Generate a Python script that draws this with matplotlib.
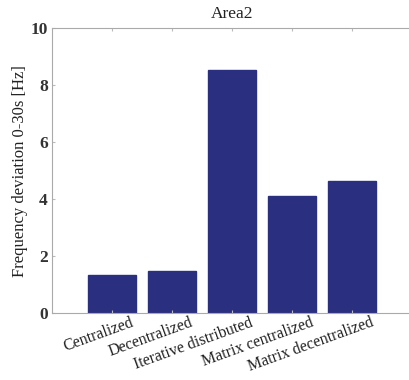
import matplotlib
matplotlib.use("Agg")
import matplotlib.pyplot as plt
import matplotlib.transforms as mtransforms

categories = ["Centralized", "Decentralized", "Iterative distributed",
              "Matrix centralized", "Matrix decentralized"]
values = [1.33, 1.47, 8.53, 4.12, 4.65]
yticks = [0, 2, 4, 6, 8, 10]

plt.rcParams['font.family'] = ['Liberation Serif', 'DejaVu Serif']

fig = plt.figure(figsize=(4.1, 3.8), dpi=100)
ax = fig.add_axes([0.127, 0.176, 0.878, 0.750])

positions = list(range(1, len(categories) + 1))
ax.bar(positions, values, width=0.8, color='#2b2f80', edgecolor='#2b2f80')

ax.set_xlim(0, 6)
ax.set_ylim(0, 10)
ax.set_yticks(yticks)
ax.set_yticklabels([str(t) for t in yticks], fontsize=12.5, fontweight='bold', color='#333333')
ax.set_xticks(positions)
ax.set_xticklabels(categories, rotation=20, ha='right', rotation_mode='anchor', fontsize=11.5,
                   color='#222222')
ax.tick_params(axis='both', direction='in', length=2, color='#bbbbbb', top=True, right=True)
ax.tick_params(axis='y', pad=3)
ax.tick_params(axis='x', pad=1)

# shift the rotated labels right like the original
offset = mtransforms.ScaledTranslation(18 / 100, 0, fig.dpi_scale_trans)
for lbl in ax.get_xticklabels():
    lbl.set_transform(lbl.get_transform() + offset)

for s in ax.spines.values():
    s.set_color('#aaaaaa')
    s.set_linewidth(0.8)

ax.set_title("Area2", fontsize=12.5, pad=7, color='#222222')
ax.set_ylabel("Frequency deviation 0-30s [Hz]", fontsize=12, color='#222222', labelpad=2)

fig.savefig("out.png", dpi=100)
